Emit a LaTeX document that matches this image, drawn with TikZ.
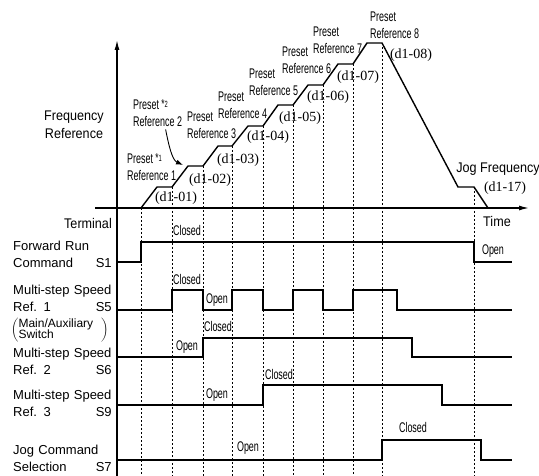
\documentclass[tikz,border=0pt]{standalone}
\usepackage{fontspec}
\setmainfont{Liberation Sans}
\newfontfamily\narrowfont[FakeStretch=0.64]{Liberation Sans}
\newfontfamily\axisfont[FakeStretch=0.9]{Liberation Sans}
\newfontfamily\parmfont{Liberation Serif}
\usetikzlibrary{arrows.meta}

\begin{document}
\begin{tikzpicture}[x=1pt, y=-1pt, >={Latex[length=10pt,width=5pt]},
  sidelbl/.style={font=\fontsize{13}{17}\selectfont, inner sep=0pt, align=left, text width=98.5pt, anchor=north west},
  axislbl/.style={font=\axisfont\fontsize{14}{18}\selectfont, inner sep=0pt, align=center},
  preset/.style={font=\narrowfont\fontsize{14}{16.5}\selectfont, inner sep=0pt, align=left, anchor=north west},
  state/.style={font=\narrowfont\fontsize{14}{15}\selectfont, inner sep=0pt},
  parm/.style={font=\parmfont\fontsize{14}{16}\selectfont, inner sep=0pt},
  sig/.style={line width=1.4pt, line join=miter},
  guide/.style={dash pattern=on 2pt off 2pt, line width=0.6pt},
  axis/.style={line width=1.3pt}]
  \useasboundingbox (0,0) rectangle (539,476);

  % axes
  \coordinate (origin) at (117,208);
  \coordinate (ytop) at (117,40);
  \coordinate (ybot) at (117,476);
  \coordinate (xleft) at (95,208);
  \coordinate (xright) at (529,208);
  \draw[axis,->] (ybot) -- (ytop);
  \draw[axis,->] (xleft) -- (xright);

  % guide lines from the step corners
  \foreach \x/\y in {141/208,172/187,203/166,232/146,263/126,293/105,323/85,353/64,382/43,474/187}
    \draw[guide] (\x,\y) -- (\x,476);

  % frequency reference
  \draw[sig] (141,208) -- (157,187) -- (172,187) -- (188,166) -- (203,166)
    -- (218,146) -- (232,146) -- (248,126) -- (263,126) -- (278,105) -- (293,105)
    -- (308,85) -- (323,85) -- (338,64) -- (353,64) -- (367,43) -- (382,43)
    -- (458,187) -- (474,187) -- (488,208);

  \node[axislbl, anchor=north] (freq) at (74,111) {Frequency\\Reference};
  \node[axislbl, anchor=north east] (term) at (112,218) {Terminal};
  \node[axislbl] (time) at (497,221) {Time};
  \node[axislbl] (jog) at (498,169) {Jog Frequency};

  \node[preset] (p1) at (127,153) {Preset\,\raisebox{1.5pt}{\fontsize{13}{13}\selectfont *\raisebox{1pt}{\fontsize{9}{9}\selectfont 1}}\\Reference 1};
  \node[preset] (p2) at (133,99) {Preset\,\raisebox{1.5pt}{\fontsize{13}{13}\selectfont *\raisebox{1pt}{\fontsize{9}{9}\selectfont 2}}\\Reference 2};
  \node[preset] (p3) at (187,112) {Preset\\Reference 3};
  \node[preset] (p4) at (218,92) {Preset\\Reference 4};
  \node[preset] (p5) at (249,69) {Preset\\Reference 5};
  \node[preset] (p6) at (282,47) {Preset\\Reference 6};
  \node[preset] (p7) at (313,27) {Preset\\Reference 7};
  \node[preset] (p8) at (370,12) {Preset\\Reference 8};

  \node[parm] (d1) at (176,198) {(d1-01)};
  \node[parm] (d2) at (210,180) {(d1-02)};
  \node[parm] (d3) at (238,160) {(d1-03)};
  \node[parm] (d4) at (268,137) {(d1-04)};
  \node[parm] (d5) at (300,118) {(d1-05)};
  \node[parm] (d6) at (328,97) {(d1-06)};
  \node[parm] (d7) at (358,77) {(d1-07)};
  \node[parm] (d8) at (411,55) {(d1-08)};
  \node[parm] (d17) at (505,188) {(d1-17)};

  \coordinate (lvl2) at (183,165);
  \draw[line width=0.9pt, -{Latex[length=7pt,width=5pt]}] (p2.south) ++(8,3)
    .. controls +(3,15) and (172,160) .. (lvl2);

  % terminals
  \node[sidelbl] (s1) at (13,241) {Forward Run\\Command\hfill S1};
  \node[sidelbl] (s5) at (13,285) {Multi-step Speed\\Ref. 1\hfill S5};
  \node[inner sep=0pt, anchor=north west] (sw) at (11,318)
    {$\left(\begin{tabular}{@{}l@{}}\fontsize{12}{11}\selectfont Main/Auxiliary\\[-1pt]\fontsize{12}{11}\selectfont Switch\end{tabular}\hspace{8pt}\right)$};
  \node[sidelbl] (s6) at (13,348) {Multi-step Speed\\Ref. 2\hfill S6};
  \node[sidelbl] (s9) at (13,390) {Multi-step Speed\\Ref. 3\hfill S9};
  \node[sidelbl] (s7) at (13,445) {Jog Command\\Selection\hfill S7};

  \draw[sig] (117,262) -- (141,262) -- (141,242) -- (474,242) -- (474,262) -- (512,262);
  \draw[sig] (117,310) -- (172,310) -- (172,290) -- (203,290) -- (203,310)
    -- (232,310) -- (232,290) -- (263,290) -- (263,310) -- (293,310) -- (293,290)
    -- (323,290) -- (323,310) -- (353,310) -- (353,290) -- (397,290) -- (397,310) -- (512,310);
  \draw[sig] (117,357) -- (203,357) -- (203,338) -- (412,338) -- (412,357) -- (512,357);
  \draw[sig] (117,405) -- (263,405) -- (263,385) -- (442,385) -- (442,405) -- (512,405);
  \draw[sig] (117,460) -- (382,460) -- (382,440) -- (481,440) -- (481,460) -- (512,460);

  \node[state] (c1) at (187,230) {Closed};
  \node[state] (o1) at (493,251) {Open};
  \node[state] (c5) at (187,279) {Closed};
  \node[state] (o5) at (217,300) {Open};
  \node[state] (c6) at (218,326) {Closed};
  \node[state] (o6) at (187,347) {Open};
  \node[state] (c9) at (279,374) {Closed};
  \node[state] (o9) at (217,395) {Open};
  \node[state] (c7) at (413,427) {Closed};
  \node[state] (o7) at (248,448) {Open};
\end{tikzpicture}
\end{document}
